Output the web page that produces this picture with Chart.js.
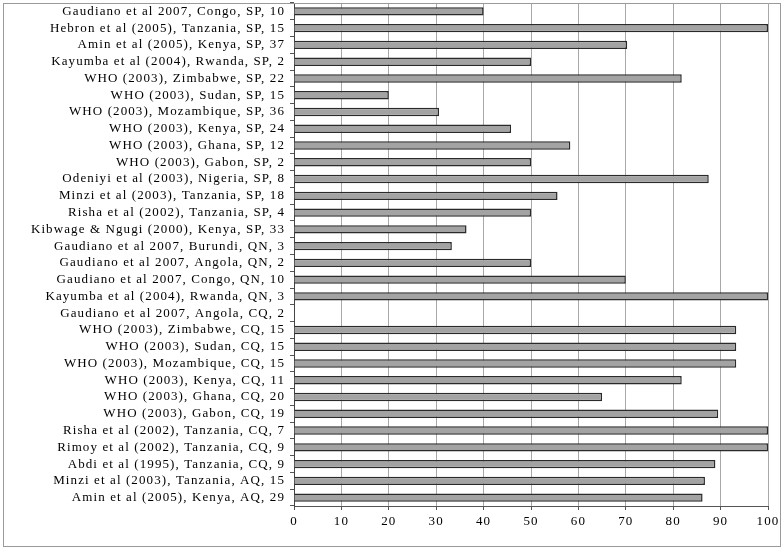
<!DOCTYPE html>
<html>
<head>
<meta charset="utf-8">
<script src="https://cdn.jsdelivr.net/npm/chart.js@4/dist/chart.umd.min.js"></script>
<style>
  html, body { margin: 0; padding: 0; background: #fff; }
  #wrap { width: 784px; height: 550px; position: relative; }
</style>
</head>
<body>
<div id="wrap"><canvas id="chart" width="784" height="550"></canvas></div>
<script>
// Study labels (top to bottom)
const studies = [
  'Gaudiano et al 2007, Congo, SP, 10',
  'Hebron et al (2005), Tanzania, SP, 15',
  'Amin et al (2005), Kenya, SP, 37',
  'Kayumba et al (2004), Rwanda, SP, 2',
  'WHO (2003), Zimbabwe, SP, 22',
  'WHO (2003), Sudan, SP, 15',
  'WHO (2003), Mozambique, SP, 36',
  'WHO (2003), Kenya, SP, 24',
  'WHO (2003), Ghana, SP, 12',
  'WHO (2003), Gabon, SP, 2',
  'Odeniyi et al (2003), Nigeria, SP, 8',
  'Minzi et al (2003), Tanzania, SP, 18',
  'Risha et al (2002), Tanzania, SP, 4',
  'Kibwage & Ngugi (2000), Kenya, SP, 33',
  'Gaudiano et al 2007, Burundi, QN, 3',
  'Gaudiano et al 2007, Angola, QN, 2',
  'Gaudiano et al 2007, Congo, QN, 10',
  'Kayumba et al (2004), Rwanda, QN, 3',
  'Gaudiano et al 2007, Angola, CQ, 2',
  'WHO (2003), Zimbabwe, CQ, 15',
  'WHO (2003), Sudan, CQ, 15',
  'WHO (2003), Mozambique, CQ, 15',
  'WHO (2003), Kenya, CQ, 11',
  'WHO (2003), Ghana, CQ, 20',
  'WHO (2003), Gabon, CQ, 19',
  'Risha et al (2002), Tanzania, CQ, 7',
  'Rimoy et al (2002), Tanzania, CQ, 9',
  'Abdi et al (1995), Tanzania, CQ, 9',
  'Minzi et al (2003), Tanzania, AQ, 15',
  'Amin et al (2005), Kenya, AQ, 29'
];

// Percent values
const percentValues = [
  40, 100, 70.3, 50, 81.8, 20, 30.6, 45.8, 58.3, 50,
  87.5, 55.6, 50, 36.4, 33.3, 50, 70, 100, 0, 93.3,
  93.3, 93.3, 81.8, 65, 89.5, 100, 100, 88.9, 86.7, 86.2
];

// X axis ticks
const xMin = 0;
const xMax = 100;
const xStep = 10;

const serif = '"Liberation Serif", "Times New Roman", serif';
const LETTER_SPACING = '1.1px';

// Outer frame, plot-area top line, and wider type
const framePlugin = {
  id: 'frame',
  beforeUpdate(chart) {
    chart.ctx.letterSpacing = LETTER_SPACING;
  },
  beforeDraw(chart) {
    const ctx = chart.ctx;
    ctx.letterSpacing = LETTER_SPACING;
    ctx.save();
    ctx.fillStyle = '#fff';
    ctx.fillRect(0, 0, chart.width, chart.height);
    ctx.strokeStyle = '#9a9a9a';
    ctx.lineWidth = 1;
    ctx.strokeRect(3.5, 3.5, chart.width - 7, chart.height - 7);
    ctx.restore();
  },
  beforeDatasetsDraw(chart) {
    const a = chart.chartArea;
    const ctx = chart.ctx;
    ctx.save();
    ctx.strokeStyle = '#9a9a9a';
    ctx.lineWidth = 1;
    ctx.beginPath();
    ctx.moveTo(a.left, a.top + 0.5);
    ctx.lineTo(a.right, a.top + 0.5);
    ctx.stroke();
    ctx.restore();
  }
};

const ctx = document.getElementById('chart');

new Chart(ctx, {
  type: 'bar',
  data: {
    labels: studies,
    datasets: [{
      data: percentValues,
      backgroundColor: '#a3a3a3',
      borderColor: '#2a2a2a',
      borderWidth: 1.5,
      borderSkipped: 'start',
      barPercentage: 0.5,
      categoryPercentage: 1
    }]
  },
  options: {
    indexAxis: 'y',
    responsive: false,
    animation: false,
    layout: { padding: { left: 0, right: 16, top: 3, bottom: 0 } },
    scales: {
      x: {
        min: xMin,
        max: xMax,
        ticks: {
          stepSize: xStep,
          color: '#000',
          font: { family: serif, size: 13 },
          padding: 4
        },
        grid: {
          color: '#a8a8a8',
          tickColor: '#555',
          tickLength: 4
        },
        border: { color: '#555', width: 1 },
        afterFit(scale) {
          scale.height = 44;
          scale.paddingLeft = 0;
          scale.paddingRight = 0;
        }
      },
      y: {
        ticks: {
          color: '#000',
          font: { family: serif, size: 13 },
          padding: 5,
          autoSkip: false
        },
        grid: {
          offset: true,
          drawOnChartArea: false,
          tickColor: '#555',
          tickLength: 4
        },
        border: { color: '#444', width: 1 },
        afterFit(scale) {
          scale.width = 294;
          scale.paddingTop = 0;
          scale.paddingBottom = 0;
        }
      }
    },
    plugins: {
      legend: { display: false },
      tooltip: { enabled: false }
    }
  },
  plugins: [framePlugin]
});
</script>
</body>
</html>
